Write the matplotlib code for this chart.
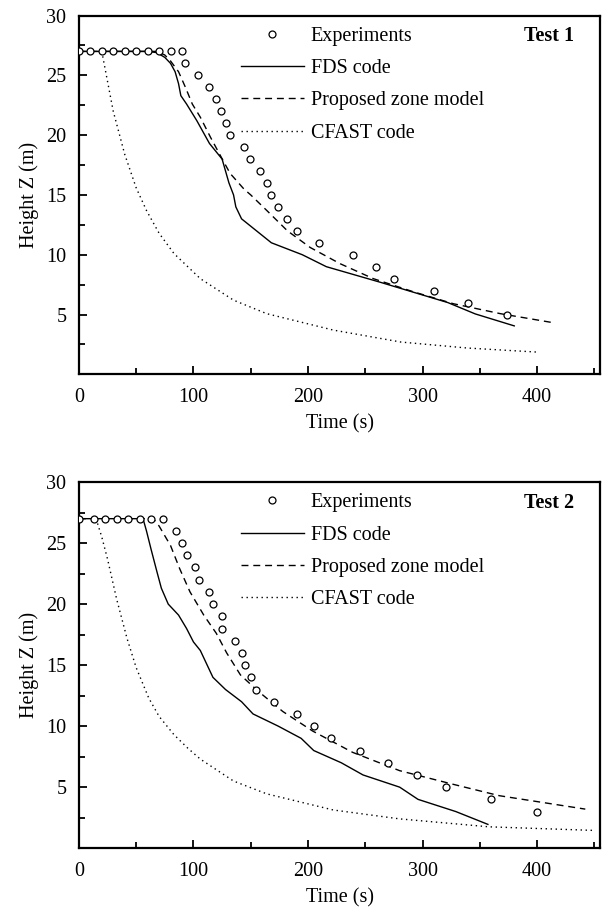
import matplotlib
matplotlib.use('Agg')
import matplotlib.pyplot as plt
from matplotlib.ticker import MultipleLocator

plt.rcParams['font.family'] = 'Liberation Serif'
plt.rcParams['font.size'] = 14.5

# ---- Test 1 ----
t1_exp = [0, 10, 20, 30, 40, 50, 60, 70, 80, 90, 93, 104, 114, 120, 124, 128, 132,
          144, 149, 158, 164, 168, 174, 182, 190, 210, 239, 259, 275, 310, 340, 374]
z1_exp = [27, 27, 27, 27, 27, 27, 27, 27, 27, 27, 26, 25, 24, 23, 22, 21, 20,
          19, 18, 17, 16, 15, 14, 13, 12, 11, 10, 9, 8, 7, 6, 5]

t1_fds = [0, 60, 68, 75, 80, 84, 87, 89, 94, 103, 114, 125, 131, 135, 137, 142,
          168, 195, 216, 263, 322, 346, 380]
z1_fds = [27, 27, 26.9, 26.5, 26, 25.3, 24.3, 23.3, 22.6, 21.2, 19.3, 18, 16, 15, 14, 13,
          11, 10, 9, 7.7, 6, 5.05, 4.05]

t1_zone = [0, 68, 75, 80, 87, 93, 99, 106, 115, 124, 132, 144, 150, 164, 182, 202,
           228, 257, 292, 327, 368, 415]
z1_zone = [27, 27, 26.7, 26.2, 25.3, 24, 22.6, 21.5, 19.8, 18.2, 16.8, 15.5, 15, 13.7, 12, 10.6,
           9.25, 8, 6.9, 5.9, 5.07, 4.3]

t1_cfast = [20, 25, 30, 40, 50, 59, 70, 83, 106, 135, 164, 222, 281, 339, 400]
z1_cfast = [27, 24.5, 22, 18.4, 15.6, 13.7, 11.8, 10.1, 8, 6.2, 5.07, 3.7, 2.7, 2.2, 1.86]

# ---- Test 2 ----
t2_exp = [0, 13, 23, 33, 43, 53, 63, 73, 85, 90, 94, 101, 105, 114, 117, 125, 125,
          136, 142, 145, 150, 155, 170, 190, 205, 220, 245, 270, 295, 320, 360, 400]
z2_exp = [27, 27, 27, 27, 27, 27, 27, 27, 26, 25, 24, 23, 22, 21, 20, 19, 18,
          17, 16, 15, 14, 13, 12, 11, 10, 9, 8, 7, 6, 5, 4, 3]

t2_fds = [0, 56, 59, 63, 68, 72, 78, 87, 94, 100, 106, 117, 128, 142, 152, 174,
          194, 205, 229, 248, 280, 296, 329, 357]
z2_fds = [27, 27, 26, 24.5, 22.7, 21.3, 20, 19.1, 18, 16.9, 16.2, 14, 13, 12, 11, 10,
          9, 8, 7, 6, 5, 4, 3, 1.95]

t2_zone = [0, 65, 70, 80, 88, 97, 109, 120, 129, 141, 156, 178, 204, 239, 280, 326, 367, 442]
z2_zone = [27, 27, 26.4, 24.8, 22.9, 21, 19.1, 17.6, 16, 14.2, 12.9, 11.2, 9.6, 7.85, 6.35,
           5.25, 4.3, 3.2]

t2_cfast = [15, 20, 25, 33, 42, 50, 61, 70, 83, 95, 106, 135, 164, 222, 280, 358, 448]
z2_cfast = [27, 25.5, 23.7, 20.4, 17.2, 14.8, 12.3, 10.8, 9.3, 8.2, 7.3, 5.5, 4.45, 3.13,
            2.4, 1.75, 1.46]

tests = [
    ('Test 1', t1_exp, z1_exp, t1_fds, z1_fds, t1_zone, z1_zone, t1_cfast, z1_cfast),
    ('Test 2', t2_exp, z2_exp, t2_fds, z2_fds, t2_zone, z2_zone, t2_cfast, z2_cfast),
]

fig = plt.figure(figsize=(6.02, 9.13), dpi=100)
boxes = [[0.131, 0.590, 0.866, 0.393], [0.131, 0.071, 0.866, 0.401]]

for box, (name, te, ze, tf, zf, tz, zz, tc, zc) in zip(boxes, tests):
    ax = fig.add_axes(box)
    ax.plot(te, ze, 'o', mfc='white', mec='black', ms=5, mew=0.9,
            label='Experiments', zorder=3)
    ax.plot(tf, zf, '-', color='black', lw=1.0, label='FDS code')
    ax.plot(tz, zz, '--', color='black', lw=1.0, dashes=(5, 3.5),
            label='Proposed zone model')
    ax.plot(tc, zc, ':', color='black', lw=1.0, dashes=(1, 2.6),
            label='CFAST code')

    ax.set_xlim(0, 455)
    ax.set_ylim(0, 30)
    ax.set_xticks([0, 100, 200, 300, 400])
    ax.xaxis.set_minor_locator(MultipleLocator(50))
    ax.set_yticks([5, 10, 15, 20, 25, 30])
    ax.yaxis.set_minor_locator(MultipleLocator(2.5))
    ax.tick_params(which='both', direction='in', width=1.3)
    ax.tick_params(which='major', length=6)
    ax.tick_params(which='minor', length=4)
    ax.tick_params(axis='x', pad=10)
    ax.tick_params(axis='y', pad=9)
    for sp in ax.spines.values():
        sp.set_linewidth(1.6)

    ax.set_xlabel('Time (s)', labelpad=5)
    ax.set_ylabel('Height Z (m)', labelpad=5)

    ax.legend(loc='upper left', bbox_to_anchor=(0.29, 1.0), frameon=False,
              handlelength=3.1, handletextpad=0.35, labelspacing=0.66,
              borderaxespad=0.15, fontsize=14.5)
    ax.text(0.95, 0.97, name, transform=ax.transAxes, ha='right', va='top',
            fontweight='bold', fontsize=14.5)

fig.savefig('out.png', dpi=100)
